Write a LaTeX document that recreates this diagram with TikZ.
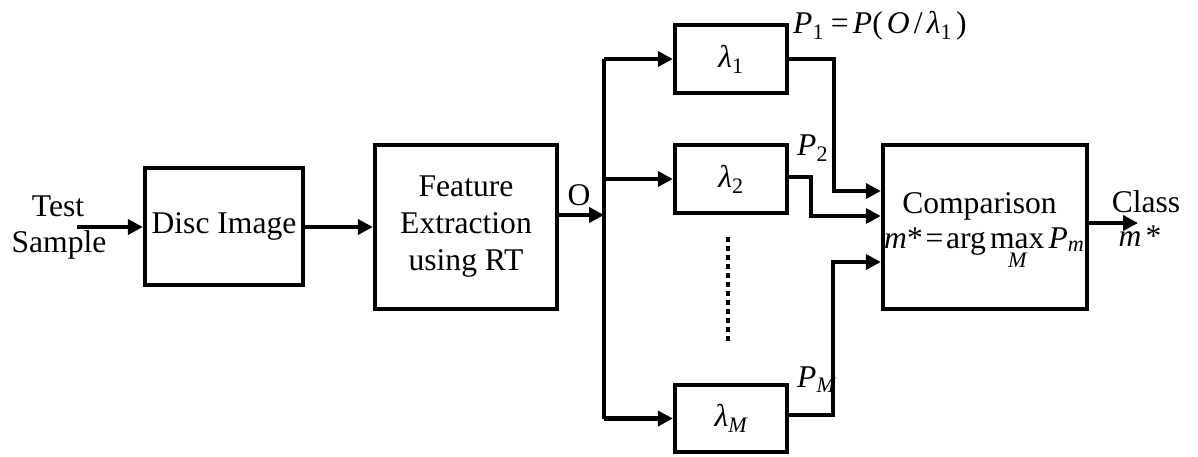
\documentclass[tikz,border=0pt]{standalone}
\usepackage{amsmath}
\usepackage{fontspec}
\setmainfont{Liberation Serif}
\usetikzlibrary{arrows.meta}
\newcommand\vi[1]{\text{\itshape #1}}
\begin{document}
\begin{tikzpicture}[x=1pt,y=-1pt,
  every node/.style={font=\fontsize{31.6}{37}\selectfont, inner sep=0pt},
  block/.style={draw, line width=4.3pt, align=center},
  wire/.style={line width=4.3pt},
  arr/.style={wire, -{Triangle[length=15pt,width=15pt]}},
  lbl/.style={anchor=base}]
\useasboundingbox (0,0) rectangle (1198,456);

% processing blocks
\node[block, minimum width=158pt, minimum height=117pt] (disc) at (224,226.5) {Disc Image};
\node[block, minimum width=182pt, minimum height=164pt] (feat) at (466,227) {Feature\\Extraction\\using RT};
\node[block, minimum width=112pt, minimum height=68pt] (l1) at (731,59) {$\vi{λ}_{\text{1}}$};
\node[block, minimum width=112pt, minimum height=68pt] (l2) at (731,179) {$\vi{λ}_{\text{2}}$};
\node[block, minimum width=112pt, minimum height=67pt] (lM) at (731,418.5) {$\vi{λ}_{\vi{M}}$};
\node[block, minimum width=204pt, minimum height=164pt] (comp) at (985,227) {};

% text inside the comparison block
\node[lbl] (comptitle) at (979.5,213) {Comparison};
\node[anchor=base west] (rule) at (884,248)
  {$\vi{m}\text{*}\mskip2mu\text{=}\mskip2mu\text{arg}\mathop{\text{max}}\limits_{\text{\raisebox{-4pt}{\itshape M}}}\vi{P}_{\vi{m}}$};

% free ends of connectors
\coordinate (src) at (77,227);
\coordinate (bus) at (604,215);
\coordinate (busTop) at (604,59);
\coordinate (busMid) at (604,179);
\coordinate (busBot) at (604,418.5);
\coordinate (j1) at (834,191);
\coordinate (j2) at (811,216);
\coordinate (jM) at (833,262);
\coordinate (out) at (1138,223);

% connectors
\draw[arr] (src) -- (disc.west |- src);
\draw[arr] (disc.east |- src) -- (feat.west |- src);
\draw[arr] (feat.east |- bus) -- (bus);
\draw[wire] (busTop) -- (busBot);
\draw[arr] (busTop) -- (l1.west);
\draw[arr] (busMid) -- (l2.west);
\draw[arr] (busBot) -- (lM.west);
\draw[arr, line join=miter] (l1.east) -| (j1) -- (comp.west |- j1);
\draw[arr, line join=miter] (l2.east |- 0,177) -| (j2) -- (comp.west |- j2);
\draw[arr, line join=miter] (lM.east |- 0,415) -| (jM) -- (comp.west |- jM);
\draw[arr] (comp.east |- out) -- (out);

% ellipsis between the model blocks
\draw[line width=4.3pt, dash pattern=on 4.5pt off 4.5pt] (728,237) -- (728,343);

% labels
\node[lbl] (test) at (58,216) {Test};
\node[lbl] (sample) at (59,252) {Sample};
\node[lbl] (olbl) at (579,205) {O};
\node[anchor=base west] (p1) at (793,33)
  {$\vi{P}_{\text{1}}\;\text{=}\,\vi{P}\text{(}\,\vi{O}\,\text{/}\,\vi{λ}_{\text{1}}\,\text{)}$};
\node[anchor=base west] (p2) at (797,155) {$\vi{P}_{\text{2}}$};
\node[anchor=base west] (pM) at (797,387) {$\vi{P}_{\vi{M}}$};
\node[lbl] (cls) at (1146,212) {Class};
\node[lbl] (clsm) at (1140,246) {$\vi{m}\,\text{*}$};
\end{tikzpicture}
\end{document}
